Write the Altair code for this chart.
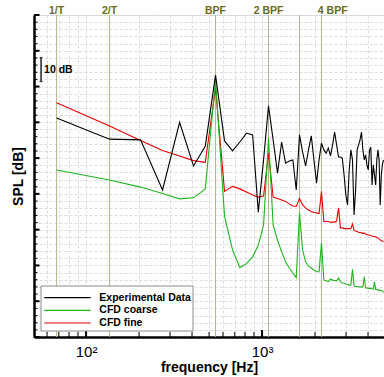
import altair as alt
import pandas as pd

# ---------------- data ----------------
BIN_HZ = 68  # narrow-band resolution = 1/T
harmonic = list(range(1, 73))
freq = [BIN_HZ * k for k in harmonic]

exp_db = [81.2, 75.3, 75.1, 61.1, 80.0, 67.8, 73.4, 93.2, 74.8, 72.0,
          74.5, 77.0, 76.5, 54.9, 69.5, 84.6, 75.1, 65.8, 74.5, 68.6,
          69.2, 69.5, 61.1, 76.5, 71.7, 67.8, 72.3, 76.2, 69.5, 63.0,
          69.5, 74.2, 72.3, 71.4, 72.8, 70.6, 73.7, 77.3, 73.7, 70.3,
          70.3, 70.0, 65.3, 59.7, 56.9, 66.7, 72.3, 69.5, 54.1, 61.1,
          72.3, 73.7, 75.1, 77.3, 72.3, 69.5, 70.9, 68.1, 66.7, 72.3,
          73.1, 62.5, 68.1, 65.3, 62.5, 69.5, 72.3, 69.5, 56.9, 65.3,
          68.1, 69.5]

coarse_db = [66.7, 63.9, 61.9, 60.1, 58.6, 58.9, 61.4, 91.8, 53.8, 44.3,
             39.4, 40.5, 42.4, 45.7, 51.3, 75.6, 51.3, 47.1, 43.8, 41.0,
             39.3, 37.9, 36.6, 54.7, 44.3, 41.0, 39.8, 39.3, 38.7, 38.3,
             38.2, 46.3, 35.9, 35.7, 35.5, 36.2, 35.9, 35.8, 35.7, 36.5,
             35.4, 35.1, 35.0, 34.8, 34.7, 34.5, 34.5, 38.9, 34.3, 34.1,
             34.1, 34.0, 34.0, 34.0, 34.0, 36.8, 33.7, 33.7, 33.6, 33.6,
             33.6, 33.4, 33.4, 35.4, 33.3, 33.3, 33.1, 33.1, 33.1, 33.0,
             32.9, 32.4]

fine_db = [85.5, 79.0, 74.9, 72.1, 70.6, 69.3, 68.8, 89.6, 60.7, 62.1,
           61.4, 60.5, 59.7, 59.1, 59.4, 71.4, 59.1, 58.7, 58.3, 57.9,
           57.2, 56.6, 56.5, 58.7, 56.9, 56.1, 55.5, 55.1, 54.8, 54.7,
           54.5, 60.7, 52.3, 52.3, 52.3, 52.1, 52.1, 52.1, 52.4, 56.1,
           50.5, 50.5, 50.3, 50.3, 50.3, 50.3, 50.3, 51.6, 49.8, 49.6,
           49.5, 49.3, 49.2, 49.1, 48.9, 49.1, 48.8, 48.6, 48.5, 48.5,
           48.4, 48.2, 48.1, 48.1, 48.0, 47.8, 47.7, 47.4, 47.1, 47.0,
           46.8, 46.6]

series_names = ["Experimental Data", "CFD coarse", "CFD fine"]
series_colors = ["#000000", "#1fb51f", "#e60000"]

marker_freq = [68, 136, 544, 1088, 1632, 2176]
label_text = ["1/T", "2/T", "BPF", "2 BPF", "4 BPF"]
label_freq = [68, 136, 544, 1088, 2520]

y_major = list(range(20, 111, 10))
y_minor = list(range(20, 111, 2))
x_major = [100, 1000]
x_minor = [60, 70, 80, 90, 200, 300, 400, 500, 600, 700, 800, 900, 2000, 3000, 4000]
x_grid = sorted(x_major + x_minor)

scalebar_freq = 55.5
scalebar_lo, scalebar_hi = 91.4, 98.1
scalebar_text_freq, scalebar_text_db = 57.7, 94.6

X_DOMAIN = [50.6, 4930]
Y_DOMAIN = [20, 110]
W, H = 350, 322
FONT = "Liberation Sans"

# ---------------- tables ----------------
rows = []
for name, vals in zip(series_names, [exp_db, coarse_db, fine_db]):
    for f, v in zip(freq, vals):
        rows.append({"freq": f, "spl": v, "series": name})
df = pd.DataFrame(rows)

xs = alt.Scale(type="log", domain=X_DOMAIN, nice=False)
ys = alt.Scale(domain=Y_DOMAIN, nice=False, zero=False)

x_axis = alt.Axis(
    values=x_grid, grid=True, gridColor="#d4d4d4", gridDash=[3, 2], gridWidth=0.8,
    ticks=False, domainColor="black", domainWidth=2.5,
    labelExpr="datum.value == 100 ? '10²' : (datum.value == 1000 ? '10³' : '')",
    labelFont=FONT, labelFontSize=15, labelColor="#000", labelPadding=7,
    labelFlush=False, labelOverlap=False,
    title="frequency [Hz]", titleFont=FONT, titleFontSize=14, titleFontWeight="bold",
    titleColor="#000", titlePadding=1,
)
y_axis = alt.Axis(
    values=y_minor, grid=True, gridColor="#d4d4d4", gridDash=[3, 2], gridWidth=0.8,
    ticks=False, labels=False, domainColor="black", domainWidth=2.5,
    title="SPL [dB]", titleFont=FONT, titleFontSize=14, titleFontWeight="bold",
    titleColor="#000", titlePadding=9,
)

def X(field):
    return alt.X(field, scale=xs, axis=x_axis)

def Y(field):
    return alt.Y(field, scale=ys, axis=y_axis)

color = alt.Color("series:N", scale=alt.Scale(domain=series_names, range=series_colors), legend=None)

def series_layer(name):
    return alt.Chart(df[df.series == name]).mark_line(strokeWidth=1.1, clip=True).encode(
        x=X("freq:Q"), y=Y("spl:Q"), color=color, order="freq:Q",
    )

vlines = alt.Chart(pd.DataFrame({"freq": marker_freq})).mark_rule(
    color="#b4b48c", strokeWidth=1
).encode(x=X("freq:Q"))

labels = alt.Chart(pd.DataFrame({"freq": label_freq, "txt": label_text})).mark_text(
    font=FONT, fontSize=10.5, fontWeight="bold", color="#6b6b1a",
    baseline="middle", align="center"
).encode(x=X("freq:Q"), y=alt.value(-4), text="txt:N")

ymaj = alt.Chart(pd.DataFrame({"spl": y_major})).mark_rule(color="black", strokeWidth=2).encode(
    y=Y("spl:Q"), x=alt.value(0), x2=alt.value(5.5))
ymin = alt.Chart(pd.DataFrame({"spl": y_minor})).mark_rule(color="black", strokeWidth=1).encode(
    y=Y("spl:Q"), x=alt.value(0), x2=alt.value(3.5))
xmaj = alt.Chart(pd.DataFrame({"freq": x_major})).mark_rule(color="black", strokeWidth=2).encode(
    x=X("freq:Q"), y=alt.value(H), y2=alt.value(H - 7))
xmin = alt.Chart(pd.DataFrame({"freq": x_minor})).mark_rule(color="black", strokeWidth=1).encode(
    x=X("freq:Q"), y=alt.value(H), y2=alt.value(H - 5))

sb_df = pd.DataFrame({"freq": [scalebar_freq], "spl": [scalebar_lo], "hi": [scalebar_hi]})
sbar = alt.Chart(sb_df).mark_rule(color="black", strokeWidth=1.3).encode(
    x=X("freq:Q"), y=Y("spl:Q"), y2="hi:Q")
sb_caps = alt.Chart(pd.DataFrame({"freq": [scalebar_freq] * 2, "spl": [scalebar_lo, scalebar_hi]})).mark_tick(
    color="black", orient="horizontal", size=3, thickness=1.3).encode(x=X("freq:Q"), y=Y("spl:Q"))
sb_text = alt.Chart(pd.DataFrame({"freq": [scalebar_text_freq], "spl": [scalebar_text_db], "t": ["10 dB"]})).mark_text(
    font=FONT, fontSize=10.5, fontWeight="bold", color="black", align="left", baseline="middle").encode(
    x=X("freq:Q"), y=Y("spl:Q"), text="t:N")

# ---------------- legend box (drawn from the series lists) ----------------
LEG_X0, LEG_X1, LEG_Y0, LEG_Y1 = 7, 159, 271, 316
row_y = [282.7, 295.3, 308]
leg_box = alt.Chart(pd.DataFrame({"k": [0]})).mark_rect(
    fill="white", stroke="#8a8a8a", strokeWidth=1).encode(
    x=alt.value(LEG_X0), x2=alt.value(LEG_X1), y=alt.value(LEG_Y0), y2=alt.value(LEG_Y1))
leg_layers = []
for name, col, ry in zip(series_names, series_colors, row_y):
    one = pd.DataFrame({"series": [name]})
    leg_layers.append(alt.Chart(one).mark_rule(color=col, strokeWidth=1.2).encode(
        x=alt.value(10.3), x2=alt.value(56.7), y=alt.value(ry)))
    leg_layers.append(alt.Chart(one).mark_text(
        font=FONT, fontSize=10.5, fontWeight="bold", color="black", align="left", baseline="middle").encode(
        x=alt.value(65.3), y=alt.value(ry), text="series:N"))

chart = alt.layer(
    vlines,
    series_layer("CFD fine"),
    series_layer("CFD coarse"),
    series_layer("Experimental Data"),
    labels, ymaj, ymin, xmaj, xmin, sbar, sb_caps, sb_text,
    leg_box, *leg_layers,
).properties(
    width=W, height=H,
    autosize=alt.AutoSizeParams(type="none"),
    padding={"left": 34, "top": 15, "right": 0, "bottom": 40},
).configure_view(stroke=None).configure(background="white")

chart.save("out.html", embed_options={"renderer": "svg", "actions": False})
